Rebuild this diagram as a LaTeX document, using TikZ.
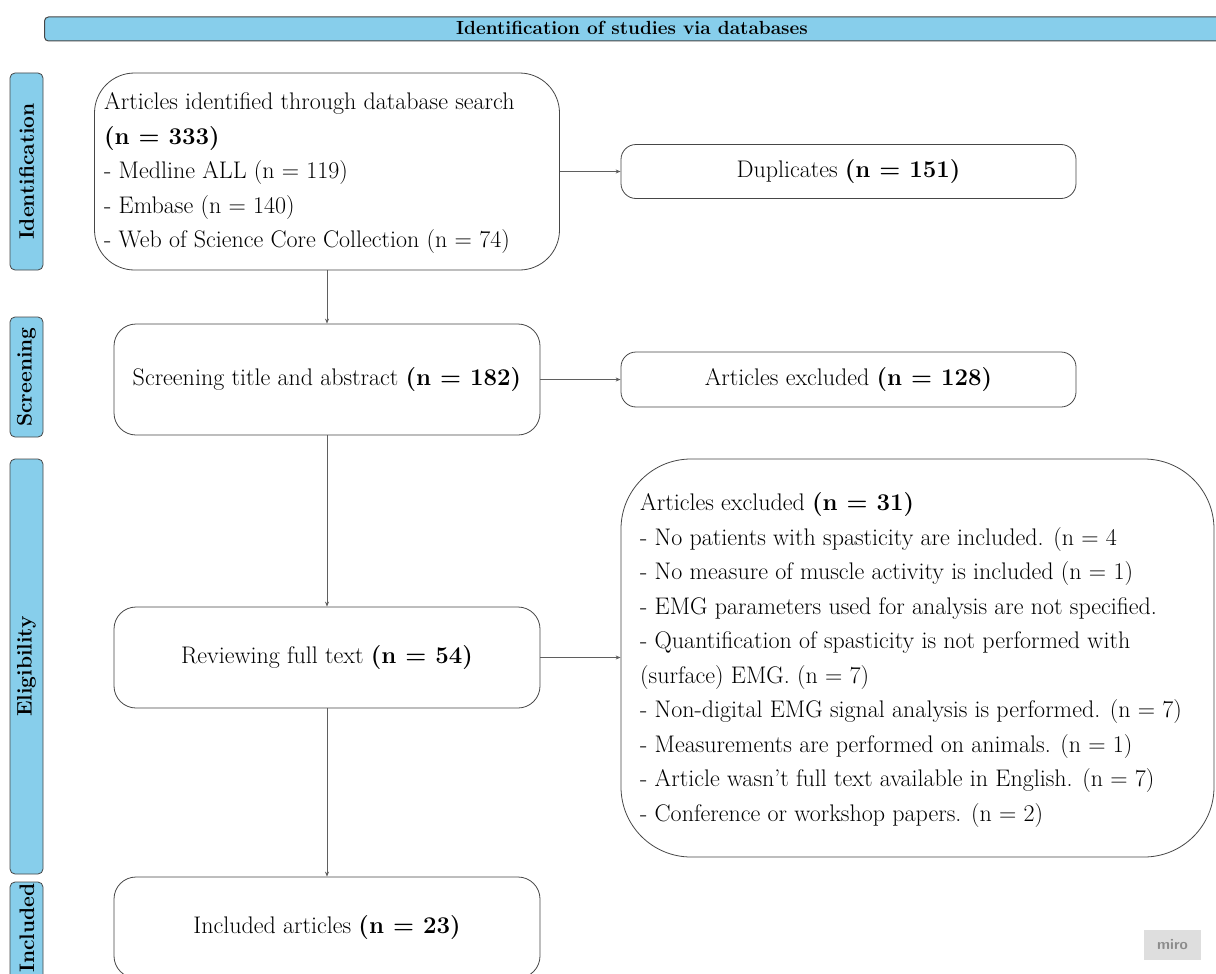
\documentclass[tikz,border=0pt]{standalone}
\usetikzlibrary{arrows.meta}
\definecolor{sky}{RGB}{135,206,235}
\definecolor{edgegray}{RGB}{70,70,70}
\definecolor{wiregray}{RGB}{95,95,95}
\definecolor{markgray}{RGB}{222,222,222}
\definecolor{marktext}{RGB}{140,140,140}
\begin{document}
\begin{tikzpicture}[x=1pt,y=-1pt,
  boxtext/.style={font=\fontsize{24}{34.5}\selectfont, inner sep=0pt},
  flowbox/.style={draw=edgegray, line width=0.8pt, fill=white, inner sep=0pt,
    font=\fontsize{24}{34.5}\selectfont, align=center},
  stagebox/.style={draw=edgegray, line width=0.8pt, fill=sky, rounded corners=5pt,
    inner sep=0pt, font=\bfseries\fontsize{21}{24}\selectfont},
  stagetext/.style={inner sep=0pt, font=\bfseries\fontsize{21}{24}\selectfont, rotate=90},
  wire/.style={draw=wiregray, line width=0.8pt, -{Stealth[length=5pt,width=4pt]}}
]
\useasboundingbox (0,0) rectangle (1216,974);
\clip (0,0) rectangle (1216,974);

% header bar
\node[draw=edgegray, line width=1pt, fill=sky, rounded corners=4pt,
      minimum width=1200pt, minimum height=24pt, anchor=west, inner sep=0pt] (head) at (44,29) {};
\node[font=\bfseries\fontsize{19}{22}\selectfont, inner sep=0pt] (headtext) at (632,28)
  {Identification of studies via databases};

% stage labels on the left
\node[stagebox, minimum width=33pt, minimum height=197pt] (sident) at (26.5,171.5)
  {\rotatebox{90}{Identification}};
\node[stagebox, minimum width=33pt, minimum height=120pt] (sscreen) at (26.5,377)
  {\rotatebox{90}{Screening}};
\node[stagebox, minimum width=33pt, minimum height=415pt] (selig) at (26.5,666.5)
  {\rotatebox{90}{Eligibility}};
\node[stagebox, minimum width=33pt, minimum height=130pt] (sincl) at (26.5,947) {};
\node[stagetext] (sincltext) at (27,928) {Included};

% main column
\node[flowbox, rounded corners=40pt, minimum width=465pt, minimum height=197pt] (ident) at (327,171.5) {};
\node[boxtext, anchor=west, align=left] (identtext) at (104,173.5)
  {Articles identified through database search\\
   \textbf{(n = 333)}\\
   - Medline ALL (n = 119)\\
   - Embase (n = 140)\\
   - Web of Science Core Collection (n = 74)};

\node[flowbox, rounded corners=22pt, minimum width=426pt, minimum height=111pt] (screen) at (327,379.5)
  {Screening title and abstract \textbf{(n = 182)}};
\node[flowbox, rounded corners=22pt, minimum width=426pt, minimum height=101pt] (review) at (327,657.5)
  {Reviewing full text \textbf{(n = 54)}};
\node[flowbox, rounded corners=22pt, minimum width=426pt, minimum height=101pt] (incl) at (327,927.5)
  {Included articles \textbf{(n = 23)}};

% exclusion column
\node[flowbox, rounded corners=15pt, minimum width=455pt, minimum height=54pt] (dup) at (848.5,171.5)
  {Duplicates \textbf{(n = 151)}};
\node[flowbox, rounded corners=15pt, minimum width=455pt, minimum height=55pt] (excla) at (848.5,379.5)
  {Articles excluded \textbf{(n = 128)}};
\node[flowbox, rounded corners=70pt, minimum width=593pt, minimum height=398pt] (exclb) at (917.5,658) {};
\node[boxtext, anchor=west, align=left] (exclbtext) at (640,660)
  {Articles excluded \textbf{(n = 31)}\\
   - No patients with spasticity are included. (n = 4\\
   - No measure of muscle activity is included (n = 1)\\
   - EMG parameters used for analysis are not specified.\\
   - Quantification of spasticity is not performed with\\
   (surface) EMG. (n = 7)\\
   - Non-digital EMG signal analysis is performed. (n = 7)\\
   - Measurements are performed on animals. (n = 1)\\
   - Article wasn't full text available in English. (n = 7)\\
   - Conference or workshop papers. (n = 2)};

% connectors
\draw[wire] (ident.south) -- (screen.north);
\draw[wire] (screen.south) -- (review.north);
\draw[wire] (review.south) -- (incl.north);
\draw[wire] (ident.east) -- (ident.east -| dup.west);
\draw[wire] (screen.east) -- (screen.east -| excla.west);
\draw[wire] (review.east) -- (review.east -| exclb.west);

% watermark
\node[fill=markgray, minimum width=57pt, minimum height=30pt, inner sep=0pt,
      text=marktext, font=\sffamily\bfseries\fontsize{15}{15}\selectfont] (mark) at (1172.5,945) {miro};
\end{tikzpicture}
\end{document}
